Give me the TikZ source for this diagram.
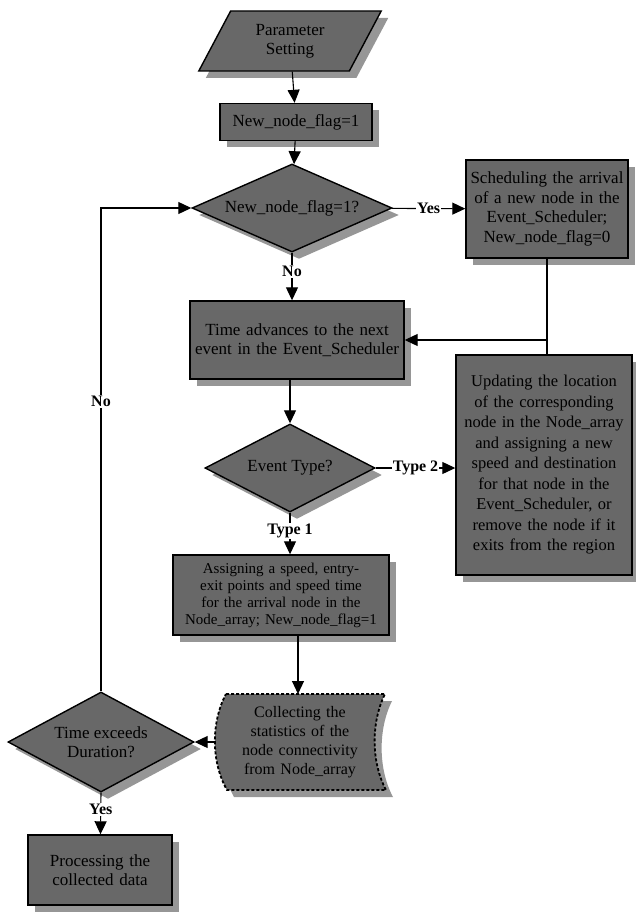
\documentclass[tikz,border=0pt]{standalone}
\usepackage{fontspec}
\setmainfont{Liberation Serif}
\usetikzlibrary{arrows.meta,positioning,shapes.geometric,shadows}
\definecolor{fcfill}{RGB}{104,104,104}
\definecolor{fcshade}{RGB}{150,150,150}
\tikzset{
  fcshadow/.style={drop shadow={shadow xshift=7pt, shadow yshift=-7pt,
                                fill=fcshade, opacity=1}},
  fcbox/.style   ={rectangle, draw=black, fill=fcfill, line width=1.4pt,
                   inner sep=2pt, align=center, font=\fontsize{17}{19.5}\selectfont,
                   fcshadow},
  fcdecide/.style={diamond, draw=black, fill=fcfill, line width=1.4pt,
                   inner sep=0pt, fcshadow},
  fctext/.style  ={align=center, font=\fontsize{17}{19}\selectfont},
  fcinput/.style ={trapezium, trapezium left angle=62, trapezium right angle=118,
                   draw=black, fill=fcfill, line width=1.4pt, align=center,
                   inner sep=1pt, font=\fontsize{17}{19}\selectfont, fcshadow},
  fcflow/.style  ={-{Triangle[length=13pt,width=12pt]}, line width=1.1pt},
  fcline/.style  ={line width=1.1pt},
  fclabel/.style ={fill=white, inner sep=1pt, font=\fontsize{16}{18}\selectfont\bfseries},
}

\begin{document}
\begin{tikzpicture}[x=1pt,y=-1pt]
  \useasboundingbox (0,0) rectangle (636,912);

  \node[fcinput, minimum width=170pt, minimum height=60pt] (param) at (290,41)
       {Parameter\\Setting};
  \node[fcbox, minimum width=152pt, minimum height=37pt] (flagset) at (296,122)
       {New\_node\_flag=1};
  \node[fcdecide, minimum width=200pt, minimum height=88pt,
        label={[fctext]center:New\_node\_flag=1?}] (flagtest) at (292,208) {};
  \node[fcbox, text width=158pt, minimum height=98pt] (sched) at (547,209)
       {Scheduling the arrival of a new node in the Event\_Scheduler; New\_node\_flag=0};
  \node[fcbox, text width=210pt, minimum height=78pt] (advance) at (297,340)
       {Time advances to the next event in the Event\_Scheduler};
  \node[fcbox, text width=172pt, minimum height=220pt,
        font=\fontsize{16.5}{20.5}\selectfont] (update) at (544,465)
       {Updating the location of the corresponding node in the Node\_array and assigning a new speed and destination for that node in the Event\_Scheduler, or remove the node if it exits from the region};
  \node[fcdecide, minimum width=170pt, minimum height=88pt,
        label={[fctext]center:Event Type?}] (evtype) at (290,468) {};
  \node[fcbox, text width=212pt, minimum height=80pt,
        font=\fontsize{15}{17}\selectfont] (assign) at (281,595)
       {Assigning a speed, entry-exit points and speed time for the arrival node in the Node\_array; New\_node\_flag=1};
  % stored data
  \fill[fcshade] (233,701) -- (392,701) .. controls (378,729) and (378,769) .. (393,797)
                 -- (234,797) .. controls (218,769) and (218,729) .. (233,701) -- cycle;
  \draw[fill=fcfill, line width=1.8pt, densely dashed]
       (226,694) -- (385,694) .. controls (371,722) and (371,762) .. (386,790)
       -- (227,790) .. controls (211,762) and (211,722) .. (226,694) -- cycle;
  \node[fctext, text width=150pt, font=\fontsize{16}{19}\selectfont] (collect) at (300,742)
       {Collecting the statistics of the node connectivity from Node\_array};
  \coordinate (collectin) at (298,694);
  \coordinate (collectout) at (216,742);
  \node[fcdecide, minimum width=186pt, minimum height=100pt,
        label={[fctext]center:Time exceeds\\Duration?}] (timeout) at (101,742) {};
  \node[fcbox, text width=140pt, minimum height=70pt] (proc) at (100,870)
       {Processing the collected data};

  \draw[fcflow] (param) -- (flagset);
  \draw[fcflow] (flagset) -- (flagtest);
  \draw[fcflow] (flagtest) -- node[fclabel]{Yes} (sched);
  \draw[fcflow] (flagtest.south) -- node[fclabel, pos=0.4]{No} (advance.north -| flagtest.south);
  \coordinate (join) at (547,340);
  \draw[fcline] (sched) -- (join);
  \draw[fcline] (update.north -| join) -- (join);
  \draw[fcflow] (join) -- (advance.east |- join);
  \draw[fcflow] (advance.south -| evtype.north) -- (evtype);
  \draw[fcflow] (evtype) -- node[fclabel]{Type 2} (update.west |- evtype);
  \draw[fcflow] (evtype.south) -- node[fclabel, pos=0.45]{Type 1} (assign.north -| evtype.south);
  \draw[fcflow] (assign.south -| collectin) -- (collectin);
  \draw[fcflow] (collectout) -- (timeout);
  \draw[fcflow] (timeout.north) |- node[fclabel, pos=0.3]{No} (flagtest.west);
  \draw[fcflow] (timeout.south) -- node[fclabel, pos=0.4]{Yes} (proc);
\end{tikzpicture}
\end{document}
